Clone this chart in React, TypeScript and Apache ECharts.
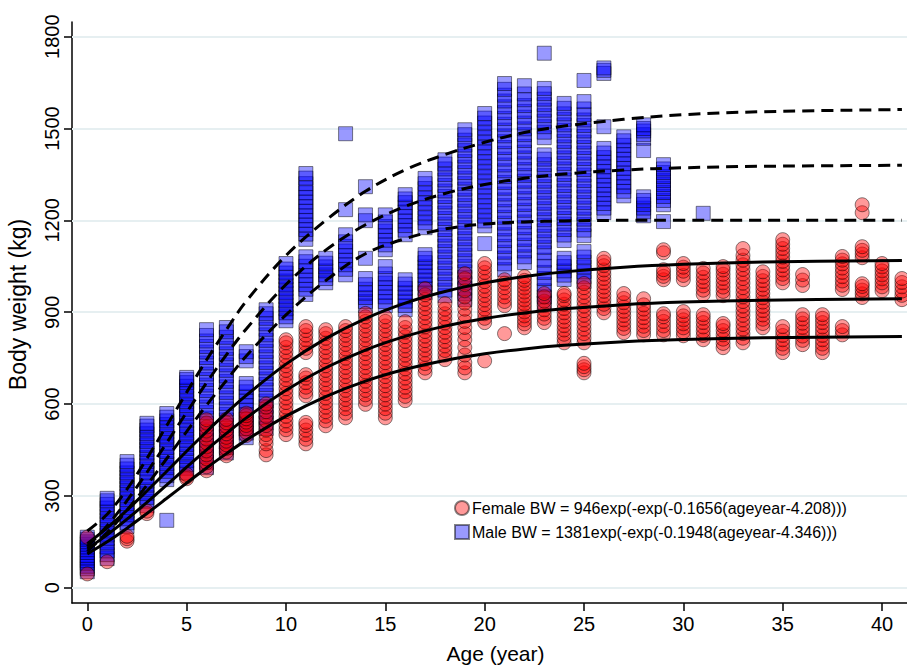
import React, { useEffect, useRef } from "react";
import * as echarts from "echarts";

const FONT = "'Liberation Sans', Arial, Helvetica, sans-serif";

const xTicks = [0, 5, 10, 15, 20, 25, 30, 35, 40];
const yTicks = [0, 300, 600, 900, 1200, 1500, 1800];

const xTitle = "Age (year)";
const yTitle = "Body weight (kg)";
const femaleLabel = "Female BW = 946exp(-exp(-0.1656(ageyear-4.208)))";
const maleLabel = "Male BW = 1381exp(-exp(-0.1948(ageyear-4.346)))";

// Male body weights (kg) by age (year)
const maleWeights: [number, number[]][] = [
  [0, [52, 62, 70, 80, 88, 97, 105, 115, 124, 133, 142, 150, 158, 165]],
  [1, [95, 108, 120, 133, 146, 160, 172, 185, 198, 210, 222, 235, 248, 260, 272, 284, 292]],
  [2, [200, 212, 225, 238, 250, 262, 275, 288, 300, 312, 325, 338, 350, 362, 375, 388, 400, 412]],
  [3, [268, 282, 295, 308, 320, 335, 348, 360, 375, 388, 400, 412, 425, 440, 452, 465, 478, 490, 503, 515, 528, 537]],
  [4, [220, 353, 366, 380, 392, 405, 418, 430, 445, 458, 470, 483, 495, 508, 520, 533, 545, 557, 569]],
  [5, [375, 390, 402, 415, 428, 440, 455, 468, 480, 493, 505, 518, 530, 545, 558, 570, 583, 595, 608, 620, 633, 645, 658, 670, 680, 687]],
  [6, [392, 410, 428, 446, 464, 482, 500, 518, 536, 554, 572, 590, 608, 626, 644, 662, 680, 698, 716, 734, 752, 770, 788, 806, 824, 843]],
  [7, [440, 458, 476, 494, 512, 530, 548, 566, 584, 602, 620, 638, 656, 674, 692, 710, 728, 746, 764, 782, 800, 818, 836, 850]],
  [8, [490, 505, 520, 535, 550, 565, 580, 595, 610, 625, 640, 655, 667, 741, 755, 771]],
  [9, [520, 538, 556, 574, 592, 610, 628, 646, 664, 682, 700, 718, 736, 754, 772, 790, 808, 826, 844, 862, 880, 895, 908]],
  [10, [872, 885, 898, 911, 924, 937, 950, 963, 976, 989, 1002, 1015, 1028, 1041, 1059]],
  [11, [958, 975, 990, 1005, 1020, 1035, 1050, 1065, 1081, 1138, 1155, 1170, 1185, 1200, 1215, 1230, 1245, 1260, 1275, 1290, 1305, 1320, 1338, 1353]],
  [12, [996, 1010, 1022, 1035, 1048, 1060, 1076]],
  [13, [1022, 1040, 1055, 1070, 1085, 1100, 1115, 1130, 1153, 1235, 1483]],
  [14, [921, 935, 948, 962, 975, 990, 1010, 1076, 1199, 1218, 1310]],
  [15, [921, 935, 950, 965, 980, 995, 1010, 1025, 1049, 1104, 1120, 1135, 1150, 1165, 1180, 1195, 1218]],
  [16, [908, 922, 936, 950, 964, 978, 992, 1006, 1153, 1168, 1183, 1198, 1213, 1228, 1243, 1258, 1270, 1284]],
  [17, [964, 978, 992, 1006, 1020, 1034, 1048, 1062, 1076, 1088, 1176, 1192, 1208, 1224, 1240, 1256, 1272, 1288, 1304, 1320, 1337]],
  [18, [954, 972, 990, 1008, 1026, 1044, 1062, 1080, 1098, 1116, 1134, 1152, 1170, 1188, 1206, 1224, 1242, 1260, 1278, 1296, 1314, 1332, 1350, 1368, 1384, 1398]],
  [19, [941, 960, 978, 996, 1014, 1032, 1050, 1068, 1086, 1104, 1122, 1140, 1158, 1176, 1194, 1212, 1230, 1248, 1266, 1284, 1302, 1320, 1338, 1356, 1374, 1392, 1410, 1428, 1446, 1462, 1480, 1496]],
  [20, [1124, 1182, 1198, 1214, 1230, 1246, 1262, 1278, 1294, 1310, 1326, 1342, 1358, 1374, 1390, 1406, 1422, 1438, 1454, 1470, 1486, 1502, 1518, 1534, 1549]],
  [21, [1039, 1058, 1077, 1096, 1115, 1134, 1153, 1172, 1191, 1210, 1229, 1248, 1267, 1286, 1305, 1324, 1343, 1362, 1381, 1400, 1419, 1438, 1457, 1476, 1495, 1514, 1533, 1552, 1571, 1590, 1609, 1628, 1647]],
  [22, [1062, 1081, 1100, 1119, 1138, 1157, 1176, 1195, 1214, 1233, 1252, 1271, 1290, 1309, 1328, 1347, 1366, 1385, 1404, 1423, 1442, 1461, 1480, 1499, 1518, 1537, 1556, 1575, 1594, 1613, 1640]],
  [23, [930, 950, 970, 990, 1010, 1030, 1050, 1070, 1094, 1112, 1130, 1148, 1166, 1184, 1202, 1220, 1238, 1256, 1274, 1292, 1310, 1328, 1346, 1364, 1382, 1400, 1414, 1470, 1488, 1506, 1524, 1542, 1560, 1578, 1596, 1614, 1631, 1746]],
  [24, [1007, 1021, 1035, 1049, 1062, 1076, 1134, 1152, 1170, 1188, 1206, 1224, 1242, 1260, 1278, 1296, 1314, 1332, 1350, 1368, 1386, 1404, 1422, 1440, 1458, 1476, 1494, 1512, 1530, 1548, 1566, 1582]],
  [25, [1000, 1016, 1032, 1048, 1064, 1080, 1098, 1150, 1168, 1186, 1204, 1222, 1240, 1258, 1276, 1294, 1312, 1330, 1348, 1366, 1384, 1402, 1420, 1438, 1456, 1474, 1492, 1510, 1528, 1546, 1564, 1588, 1657]],
  [26, [1225, 1240, 1255, 1270, 1285, 1300, 1315, 1330, 1345, 1360, 1375, 1390, 1405, 1420, 1435, 1506, 1680, 1690, 1698]],
  [27, [1280, 1295, 1310, 1325, 1340, 1355, 1370, 1385, 1400, 1415, 1430, 1445, 1460, 1473]],
  [28, [1215, 1228, 1240, 1252, 1265, 1277, 1428, 1468, 1480, 1492, 1500, 1512]],
  [29, [1196, 1251, 1265, 1278, 1291, 1304, 1317, 1330, 1343, 1356, 1368, 1382]],
  [31, [1223]],
];

// Female body weights (kg) by age (year)
const femaleWeights: [number, number[]][] = [
  [0, [45, 165]],
  [1, [85]],
  [2, [152, 160, 168]],
  [3, [242, 250]],
  [5, [356, 362, 370]],
  [6, [382, 395, 408, 421, 434, 447, 460, 473, 486, 499, 512, 525, 538, 549]],
  [7, [431, 443, 455, 467, 479, 491, 503, 515, 527, 539, 550]],
  [8, [497, 508, 519, 530, 541, 552, 562, 570]],
  [9, [434, 448, 470, 485, 500, 515, 530, 545, 560, 575, 590, 600]],
  [10, [500, 516, 530, 545, 560, 575, 590, 605, 620, 635, 650, 665, 680, 695, 710, 725, 740, 755, 770, 785, 800, 810]],
  [11, [470, 485, 500, 515, 530, 540, 627, 640, 655, 670, 685, 696, 768, 782, 796, 810, 825, 840, 853]],
  [12, [529, 545, 560, 575, 590, 605, 620, 635, 650, 665, 680, 695, 710, 725, 740, 755, 770, 785, 800, 815, 830, 843]],
  [13, [555, 570, 585, 600, 615, 630, 645, 660, 675, 690, 705, 720, 735, 750, 765, 780, 795, 810, 825, 840, 853]],
  [14, [599, 615, 630, 645, 660, 675, 690, 705, 720, 735, 750, 765, 780, 795, 810, 825, 840, 855, 870, 885, 896]],
  [15, [555, 570, 585, 600, 615, 630, 645, 660, 675, 690, 705, 720, 735, 750, 765, 780, 795, 810, 825, 840, 855, 870, 885]],
  [16, [611, 625, 640, 655, 670, 685, 700, 715, 730, 745, 760, 775, 790, 805, 820, 835, 850, 869]],
  [17, [702, 717, 732, 747, 762, 777, 792, 807, 822, 837, 852, 867, 882, 897, 912, 927, 942, 957, 977]],
  [18, [745, 760, 775, 790, 805, 820, 835, 850, 865, 880, 895, 910, 928]],
  [19, [702, 718, 735, 760, 785, 810, 830, 850, 870, 890, 910, 930, 950, 970, 990, 1010, 1026]],
  [20, [741, 866, 880, 895, 910, 925, 940, 955, 970, 985, 1000, 1015, 1030, 1045, 1059]],
  [21, [830, 921, 935, 950, 965, 980, 995, 1006]],
  [22, [849, 862, 875, 888, 901, 914, 927, 940, 953, 966, 979, 992, 1004, 1016]],
  [23, [866, 880, 894, 908, 922, 936, 950, 961]],
  [24, [800, 814, 828, 842, 856, 870, 884, 898, 912, 926, 940, 954, 961]],
  [25, [702, 712, 722, 733, 800, 815, 830, 845, 860, 875, 890, 905, 920, 935, 950, 965, 980, 994]],
  [26, [898, 912, 926, 940, 954, 968, 982, 996, 1010, 1024, 1038, 1052, 1064, 1076]],
  [27, [833, 847, 861, 875, 889, 903, 917, 931, 945, 961]],
  [28, [826, 840, 854, 868, 882, 896, 910, 924, 944]],
  [29, [826, 840, 855, 870, 885, 895, 1006, 1017, 1028, 1039, 1094, 1104]],
  [30, [823, 836, 849, 862, 875, 888, 902, 1006, 1020, 1034, 1047, 1059]],
  [31, [810, 824, 838, 852, 866, 880, 892, 958, 972, 986, 1000, 1014, 1028, 1043]],
  [32, [784, 798, 812, 826, 840, 854, 863, 954, 968, 982, 996, 1010, 1024, 1038, 1049]],
  [33, [800, 815, 830, 845, 860, 875, 890, 905, 920, 935, 950, 965, 980, 995, 1010, 1025, 1040, 1055, 1070, 1085, 1108]],
  [34, [849, 863, 877, 891, 905, 919, 933, 947, 961, 975, 989, 1003, 1017, 1032]],
  [35, [768, 782, 796, 810, 824, 838, 853, 996, 1010, 1024, 1038, 1052, 1066, 1080, 1094, 1108, 1122, 1137]],
  [36, [794, 808, 822, 836, 850, 864, 878, 892, 987, 1005, 1023]],
  [37, [768, 782, 796, 810, 824, 838, 852, 866, 880, 892]],
  [38, [826, 840, 853, 974, 988, 1002, 1016, 1030, 1044, 1058, 1070, 1082]],
  [39, [948, 960, 972, 984, 993, 1078, 1090, 1102, 1114, 1225, 1251]],
  [40, [970, 983, 996, 1009, 1022, 1035, 1048, 1059]],
  [41, [941, 955, 969, 983, 997, 1010]],
];

// Fitted growth curves (kg) at these ages
const curveAges = [0, 1, 2, 3, 4, 5, 6, 7, 8, 10, 12, 14, 16, 18, 20, 22, 24, 27, 30, 34, 41];
const femaleMid = [127.1, 172.6, 223.8, 278.9, 336.0, 393.6, 449.9, 504.0, 554.8, 644.9, 718.4, 776.4, 820.9, 854.4, 879.3, 897.6, 911.0, 924.5, 932.9, 939.2, 943.9];
const femaleUpper = [143.9, 195.5, 253.5, 315.9, 380.5, 445.8, 509.5, 570.8, 628.3, 730.3, 813.6, 879.3, 929.7, 967.6, 995.8, 1016.5, 1031.7, 1047.0, 1056.5, 1063.6, 1069.0];
const femaleLower = [110.4, 150.0, 194.5, 242.4, 292.0, 342.0, 391.0, 438.0, 482.1, 560.4, 624.3, 674.7, 713.4, 742.5, 764.1, 780.0, 791.7, 803.4, 810.7, 816.2, 820.2];
const maleMid = [134.1, 202.7, 284.7, 376.4, 473.8, 572.6, 669.2, 760.7, 845.4, 990.4, 1102.6, 1185.7, 1245.5, 1287.7, 1317.1, 1337.4, 1351.3, 1364.4, 1371.7, 1376.7, 1379.9];
const maleUpper = [185, 240, 322, 422, 530, 638, 744, 843, 936, 1085, 1200, 1295, 1365, 1415, 1455, 1487, 1508, 1530, 1545, 1555, 1562];
const maleLower = [119, 180, 253, 335, 422, 510, 596, 677, 757, 891, 1003, 1091, 1140, 1172, 1188, 1195, 1198, 1200, 1200, 1200, 1200];

const toPoints = (rows: [number, number[]][]) =>
  rows.flatMap(([age, ws]) => ws.map((w) => [age, w]));
const toCurve = (vals: number[]) => curveAges.map((a, i) => [a, vals[i]]);

const curveSeries = (vals: number[], dashed: boolean) => ({
  type: "line",
  data: toCurve(vals),
  smooth: 0.35,
  symbol: "none",
  silent: true,
  z: 6,
  lineStyle: { color: "#000", width: 3, type: dashed ? [12, 7] : "solid" },
});

export default function App() {
  const ref = useRef<HTMLDivElement>(null);
  useEffect(() => {
    if (!ref.current) return;
    const chart = echarts.init(ref.current, undefined, { renderer: "svg" });
    const axisText = { fontFamily: FONT, fontSize: 20, color: "#000" };
    chart.setOption({
      animation: false,
      backgroundColor: "#fff",
      grid: { left: 72, right: -12, top: 22, bottom: 64, outerBoundsMode: "none", containLabel: false },
      legend: {
        data: [femaleLabel, maleLabel],
        orient: "vertical",
        left: 454,
        top: 500,
        padding: 0,
        itemWidth: 14,
        itemHeight: 14,
        itemGap: 8,
        selectedMode: false,
        textStyle: { fontFamily: FONT, fontSize: 16, color: "#000", padding: [0, 0, 0, -2] },
      },
      xAxis: {
        type: "value",
        min: -0.77,
        max: 41.86,
        name: xTitle,
        nameLocation: "middle",
        nameGap: 40,
        nameTextStyle: { fontFamily: FONT, fontSize: 21, color: "#000" },
        axisLine: { show: true, onZero: false, lineStyle: { color: "#000", width: 1.5 } },
        axisTick: { show: true, length: 8, customValues: xTicks, lineStyle: { color: "#000", width: 1.5 } },
        axisLabel: { ...axisText, margin: 11, customValues: xTicks, formatter: (v: number) => String(v) },
        splitLine: { show: false },
      },
      yAxis: {
        type: "value",
        min: -50,
        max: 1848,
        name: yTitle,
        nameLocation: "middle",
        nameGap: 43,
        nameRotate: 90,
        nameTextStyle: { fontFamily: FONT, fontSize: 23, color: "#000", padding: [0, 0, 0, 16] },
        axisLine: { show: true, onZero: false, lineStyle: { color: "#000", width: 1.5 } },
        axisTick: { show: true, length: 8, customValues: yTicks, lineStyle: { color: "#000", width: 1.5 } },
        axisLabel: { ...axisText, rotate: 90, margin: 10, customValues: yTicks, formatter: (v: number) => String(v) },
        splitLine: { show: false },
      },
      series: [
        {
          name: maleLabel,
          type: "scatter",
          symbol: "rect",
          symbolSize: 14,
          z: 2,
          data: toPoints(maleWeights),
          itemStyle: { color: "rgba(0,0,255,0.5)", borderColor: "rgba(0,0,0,0.6)", borderWidth: 1 },
          markLine: {
            silent: true,
            z: 1,
            symbol: ["none", "none"],
            label: { show: false },
            lineStyle: { color: "#e6eff1", width: 2, type: "solid" },
            data: yTicks.map((v) => ({ yAxis: v })),
          },
        },
        {
          name: femaleLabel,
          type: "scatter",
          symbol: "circle",
          symbolSize: 14,
          z: 3,
          data: toPoints(femaleWeights),
          itemStyle: { color: "rgba(255,0,0,0.5)", borderColor: "rgba(0,0,0,0.6)", borderWidth: 1 },
        },
        curveSeries(femaleUpper, false),
        curveSeries(femaleMid, false),
        curveSeries(femaleLower, false),
        curveSeries(maleUpper, true),
        curveSeries(maleMid, true),
        curveSeries(maleLower, true),
      ],
    });
    return () => chart.dispose();
  }, []);
  return (
    <div
      ref={ref}
      style={{ position: "fixed", left: 0, top: 0, width: 907, height: 667, background: "#fff" }}
    />
  );
}
